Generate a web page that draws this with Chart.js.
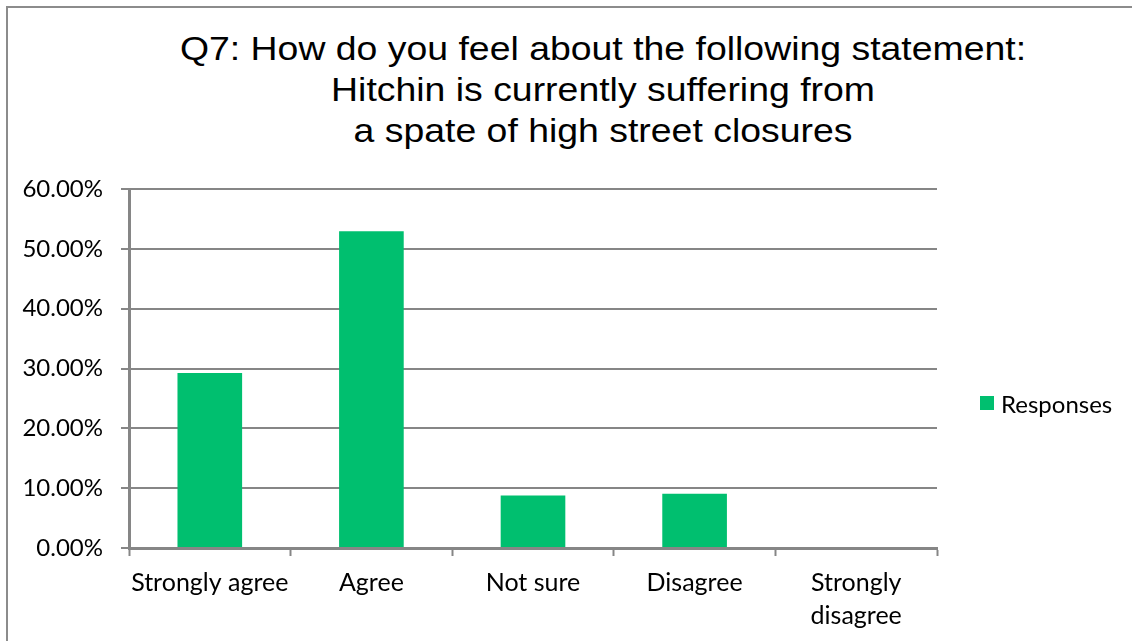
<!DOCTYPE html>
<html>
<head>
<meta charset="utf-8">
<title>Q7 responses</title>
<script src="https://cdn.jsdelivr.net/npm/chart.js@4"></script>
<style>
  html, body { margin: 0; padding: 0; background: #fff; overflow: hidden; }
  #wrap { position: relative; width: 1132px; height: 641px; }
  #frame {
    position: absolute; left: 6px; top: 6px; width: 1200px; height: 700px;
    border-left: 2px solid #8c8c8c; border-top: 2px solid #8c8c8c;
  }
  #title {
    position: absolute; left: 0; top: 28px; width: 1206px;
    text-align: center; font-family: "Liberation Sans", Arial, sans-serif;
    font-size: 34px; line-height: 41px; color: #000;
    transform: scaleX(1.1); transform-origin: 603px 0;
  }
  #legend {
    position: absolute; left: 980px; top: 389px;
    font-family: Lato, "Open Sans", sans-serif; font-size: 24px; color: #000;
    display: flex; align-items: center; height: 28px;
  }
  #legend .swatch { width: 14px; height: 14px; background: #00bf6f; margin-right: 7px; }
  canvas { position: absolute; left: 0; top: 0; }
</style>
</head>
<body>
<div id="wrap">
  <div id="frame"></div>
  <div id="title">Q7: How do you feel about the following statement:<br>Hitchin is currently suffering from<br>a spate of high street closures</div>
  <canvas id="chart" width="1132" height="641"></canvas>
  <div id="legend"><span class="swatch"></span><span>Responses</span></div>
</div>
<script>
  // Survey answers and share of responses (%)
  const categories = ['Strongly agree', 'Agree', 'Not sure', 'Disagree', ['Strongly', 'disagree']];
  const responses = [29.23, 52.92, 8.77, 9.08, 0];
  const yTicks = [0, 10, 20, 30, 40, 50, 60];

  const axisColor = '#868686';

  const ctx = document.getElementById('chart').getContext('2d');
  new Chart(ctx, {
    type: 'bar',
    data: {
      labels: categories,
      datasets: [{
        label: 'Responses',
        data: responses,
        backgroundColor: '#00bf6f',
        borderWidth: 0,
        categoryPercentage: 1.0,
        barPercentage: 0.4
      }]
    },
    options: {
      responsive: false,
      animation: false,
      layout: { padding: { top: 189, left: 0, right: 195, bottom: 0 } },
      plugins: {
        legend: { display: false },
        tooltip: { enabled: false },
        title: { display: false }
      },
      scales: {
        x: {
          grid: {
            offset: true,
            drawOnChartArea: false,
            drawTicks: true,
            tickLength: 8,
            tickColor: axisColor,
            tickWidth: 2
          },
          border: { color: axisColor, width: 3 },
          ticks: {
            color: '#000',
            font: { family: 'Lato', size: 25, lineHeight: 1.3 },
            padding: 11,
            maxRotation: 0,
            autoSkip: false
          },
          afterFit: s => { s.height = 93; }
        },
        y: {
          min: yTicks[0],
          max: yTicks[yTicks.length - 1],
          afterBuildTicks: s => { s.ticks = yTicks.map(v => ({ value: v })); },
          grid: {
            color: axisColor,
            lineWidth: 2,
            drawTicks: true,
            tickLength: 8,
            tickColor: axisColor
          },
          border: { color: axisColor, width: 3 },
          ticks: {
            color: '#000',
            font: { family: 'Lato', size: 24 },
            padding: 18,
            callback: v => v.toFixed(2) + '%'
          },
          afterFit: s => { s.width = 129; }
        }
      }
    }
  });
</script>
</body>
</html>
